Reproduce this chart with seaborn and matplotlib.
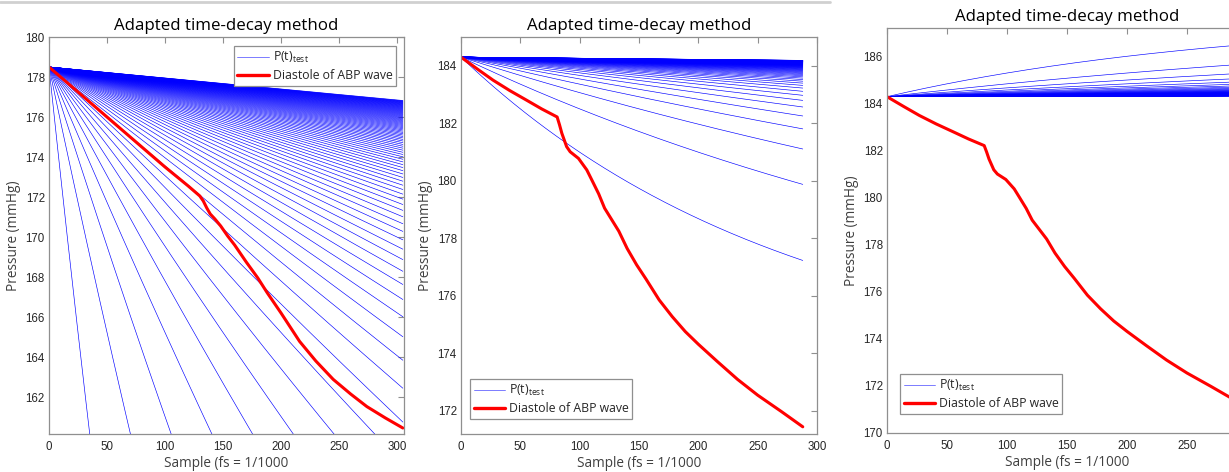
import numpy as np
import pandas as pd
import matplotlib
matplotlib.use("Agg")
import matplotlib.pyplot as plt
from matplotlib.lines import Line2D
import seaborn as sns

# ---------------- data ----------------
# Panel 1 : diastole of ABP wave (beat 1)
t_beat1 = [0, 20, 40, 60, 80, 100, 120, 130, 133, 136, 139, 143, 148, 154, 160,
           170, 180, 188, 200, 216, 230, 245, 260, 274, 290, 305]
p_beat1 = [178.5, 177.5, 176.5, 175.5, 174.5, 173.5, 172.55, 172.05, 171.8, 171.45,
           171.15, 170.9, 170.55, 170.05, 169.6, 168.75, 167.95, 167.22, 166.2,
           164.78, 163.8, 162.88, 162.15, 161.52, 160.95, 160.45]

# Panels 2 and 3 : diastole of ABP wave (beat 2)
t_beat2 = [0, 14, 27, 41, 55, 68, 81, 83, 85, 89, 92, 99, 106, 110, 113, 116, 121,
           127, 133, 140, 148, 156, 167, 178, 189, 200, 216, 233, 250, 270, 288]
p_beat2 = [184.3, 183.88, 183.5, 183.14, 182.81, 182.5, 182.22, 181.95, 181.65,
           181.19, 181.01, 180.78, 180.38, 180.05, 179.8, 179.55, 179.05, 178.65,
           178.25, 177.65, 177.08, 176.58, 175.86, 175.28, 174.76, 174.32, 173.72,
           173.1, 172.55, 171.98, 171.45]

# Test-curve family P(t)_test : P0, amplitude and time-constant step (samples)
curve_index = list(range(1, 101))
p0_panel1, tau_step_panel1, len_panel1 = 178.5, 323.5, 305
p0_panel2, amp_panel2, tau_step_panel2, len_panel2 = 184.3, -11.0, 280.0, 288
p0_panel3, amp_panel3, tau_step_panel3, len_panel3 = 184.3, 3.44, 289.0, 288

title_text = "Adapted time-decay method"
xlabel_text = "Sample (fs = 1/1000"
ylabel_text = "Pressure (mmHg)"
legend_labels = ["P(t)$_{\\mathregular{test}}$", "Diastole of ABP wave"]


def family_panel1():
    t = np.arange(0, len_panel1 + 1)
    rows = []
    for k in curve_index:
        p = p0_panel1 * np.exp(-t / (tau_step_panel1 * k))
        rows.append(pd.DataFrame({"sample": t, "pressure": p, "curve": k}))
    return pd.concat(rows, ignore_index=True)


def family_step(p0, amp, step, n):
    t = np.arange(0, n + 1)
    rows = []
    for k in curve_index:
        p = p0 + amp * (1 - np.exp(-t / (step * k)))
        rows.append(pd.DataFrame({"sample": t, "pressure": p, "curve": k}))
    return pd.concat(rows, ignore_index=True)


fam1 = family_panel1()
fam2 = family_step(p0_panel2, amp_panel2, tau_step_panel2, len_panel2)
fam3 = family_step(p0_panel3, amp_panel3, tau_step_panel3, len_panel3)
beat1 = pd.DataFrame({"sample": t_beat1, "pressure": p_beat1})
beat2 = pd.DataFrame({"sample": t_beat2, "pressure": p_beat2})

# ---------------- styling ----------------
sns.set_style("white")
plt.rcParams["font.family"] = ["Liberation Sans", "DejaVu Sans"]
plt.rcParams["mathtext.fontset"] = "custom"
plt.rcParams["mathtext.rm"] = "Open Sans"
plt.rcParams["mathtext.it"] = "Open Sans"

W, H = 1229, 472
fig = plt.figure(figsize=(W / 100, H / 100), dpi=100)
fig.patch.set_facecolor("white")


def add_axes(left, right, top, bottom):
    return fig.add_axes([left / W, (H - bottom) / H, (right - left) / W, (bottom - top) / H])


ax1 = add_axes(49, 404, 37, 434)
ax2 = add_axes(461, 817, 37, 434)
ax3 = add_axes(887, 1247, 28, 433)

BLUE = "#0000ff"
RED = "#ff0000"
SPINE = "#8f8f8f"
TXT = "#262626"

panels = [
    (ax1, fam1, beat1, (0, 306), (160.15, 180), np.arange(162, 181, 2)),
    (ax2, fam2, beat2, (0, 300), (171.2, 185.0), np.arange(172, 185, 2)),
    (ax3, fam3, beat2, (0, 300), (170, 187.22), np.arange(170, 187, 2)),
]

for ax, fam, beat, xl, yl, yt in panels:
    sns.lineplot(data=fam, x="sample", y="pressure", units="curve", estimator=None,
                 color=BLUE, lw=0.45, ax=ax, legend=False)
    sns.lineplot(data=beat, x="sample", y="pressure", color=RED, lw=2.2, ax=ax,
                 legend=False, sort=False)
    ax.set_xlim(*xl)
    ax.set_ylim(*yl)
    ax.set_xticks(np.arange(0, 301, 50))
    ax.set_yticks(yt)
    ax.tick_params(direction="in", length=4, width=0.8, color=SPINE, top=True,
                   right=True, labelsize=8.3, labelcolor=TXT, pad=3)
    ax.tick_params(axis="x", pad=5)
    for s in ax.spines.values():
        s.set_visible(True)
        s.set_color(SPINE)
        s.set_linewidth(0.9)
    ax.set_title(title_text, fontsize=12.2, family="Open Sans", color="black", pad=5)
    ax.set_xlabel(xlabel_text, fontsize=9.8, family="Open Sans", color="#404040", labelpad=2)
    ax.set_ylabel(ylabel_text, fontsize=9.8, family="Open Sans", color="#404040", labelpad=3)

# third panel is cropped on the right: its last tick label falls outside the picture
ax3.set_xticklabels(["0", "50", "100", "150", "200", "250", ""])

handles = [Line2D([], [], color=BLUE, lw=0.6, alpha=0.6), Line2D([], [], color=RED, lw=2.4)]
leg_kw = dict(frameon=True, fancybox=False, framealpha=1,
              edgecolor=SPINE, handlelength=2.6, handletextpad=0.3,
              labelspacing=0.35, borderpad=0.3,
              prop={"family": "Open Sans", "size": 8.8})
l1 = ax1.legend(handles, legend_labels, loc="upper right", bbox_to_anchor=(0.978, 0.977),
                borderaxespad=0, **leg_kw)
l2 = ax2.legend(handles, legend_labels, loc="lower left", bbox_to_anchor=(0.025, 0.038),
                borderaxespad=0, **leg_kw)
l3 = ax3.legend(handles, legend_labels, loc="lower left", bbox_to_anchor=(0.036, 0.047),
                borderaxespad=0, **leg_kw)
for lg in (l1, l2, l3):
    lg.get_frame().set_linewidth(0.9)
    for t in lg.get_texts():
        t.set_color(TXT)

fig.add_artist(Line2D([0, 830 / W], [1 - 1.5 / H, 1 - 1.5 / H], color="#d0d0d0", lw=2,
                      transform=fig.transFigure))

fig.savefig("out.png", dpi=100)
